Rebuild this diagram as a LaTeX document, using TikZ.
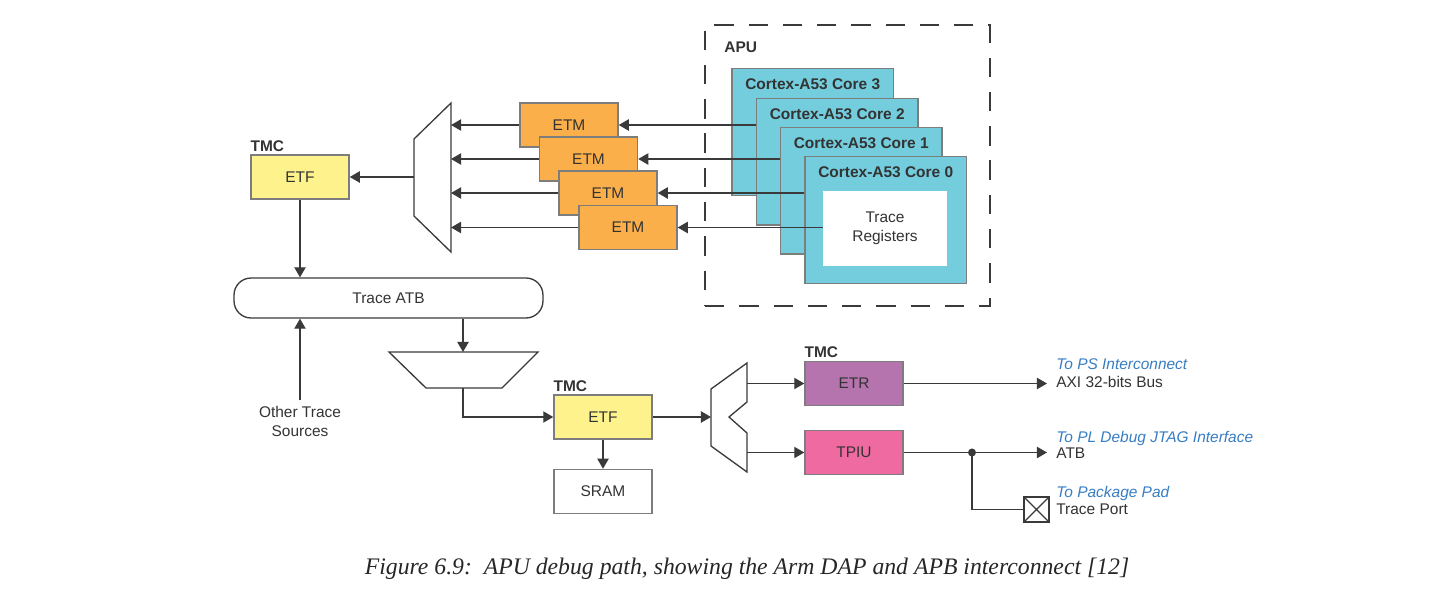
\documentclass[tikz,border=0pt]{standalone}
\usepackage{fontspec}
\setmainfont{Liberation Serif}
\setsansfont{Liberation Sans}
\usetikzlibrary{arrows.meta, positioning}

\definecolor{corecyan}{RGB}{115,205,221}
\definecolor{etmorange}{RGB}{250,175,74}
\definecolor{etfyellow}{RGB}{254,242,140}
\definecolor{etrpurple}{RGB}{181,116,174}
\definecolor{tpiupink}{RGB}{240,106,162}
\definecolor{boxgray}{RGB}{125,125,125}
\definecolor{linegray}{RGB}{58,58,58}
\definecolor{txtgray}{RGB}{51,51,51}
\definecolor{destblue}{RGB}{55,125,195}

\begin{document}
\begin{tikzpicture}[
    x=0.02cm, y=-0.02cm,
    every node/.style={font=\sffamily\fontsize{8.8}{10.8}\selectfont, text=txtgray},
    block/.style={
        rectangle,
        draw=boxgray,
        line width=0.85pt,
        minimum width=1.96cm,
        minimum height=0.88cm,
        inner sep=0pt
    },
    etm/.style={block, fill=etmorange},
    etf/.style={block, fill=etfyellow},
    core/.style={
        rectangle,
        draw=boxgray,
        line width=0.85pt,
        fill=corecyan,
        minimum width=3.24cm,
        minimum height=2.54cm,
        anchor=north west
    },
    corename/.style={font=\sffamily\bfseries\fontsize{8.8}{10.8}\selectfont, inner sep=0pt, anchor=north, yshift=-0.21cm},
    tmc/.style={font=\sffamily\bfseries\fontsize{8.8}{10.8}\selectfont, inner sep=0pt, anchor=south west, yshift=0.05cm},
    apubox/.style={draw=linegray, line width=0.75pt, dash pattern=on 11pt off 8.5pt, minimum width=5.7cm, minimum height=5.62cm},
    mux/.style={draw=linegray, line width=0.75pt, fill=white},
    wire/.style={draw=linegray, line width=0.75pt},
    arrow/.style={wire, -{Triangle[length=5.7pt, width=6.4pt]}},
    dest/.style={font=\sffamily\itshape\fontsize{8.8}{10.8}\selectfont, text=destblue, inner sep=0pt, anchor=base west},
    note/.style={inner sep=0pt, anchor=base west}
]
    \useasboundingbox (0,0) rectangle (1440,592);

    % APU with its four cores
    \node (apu) [apubox] at (847.5,165.5) {};
    \node (apuname) [font=\sffamily\bfseries\fontsize{8.8}{10.8}\selectfont, inner sep=0pt, anchor=base west] at (724,52.5) {APU};

    \node (core3) [core, label={[corename]north:Cortex-A53 Core 3}] at (731,68) {};
    \node (core2) [core, label={[corename]north:Cortex-A53 Core 2}] at (755.5,97.5) {};
    \node (core1) [core, label={[corename]north:Cortex-A53 Core 1}] at (779.5,126.5) {};
    \node (core0) [core, label={[corename]north:Cortex-A53 Core 0}] at (804,156) {};
    \node (treg) [fill=white, minimum width=2.48cm, minimum height=1.5cm, inner sep=0pt, align=center] at (885,228.5) {Trace\\Registers};

    % ETMs, stacked
    \node (etm1) [etm] at (569,125) {ETM};
    \node (etm2) [etm] at (588.5,159) {ETM};
    \node (etm3) [etm] at (608,193) {ETM};
    \node (etm4) [etm] at (628,227.5) {ETM};

    % first funnel and the ETF behind it
    \draw [mux] (414,139) -- (451,103) -- (451,252) -- (414,216) -- cycle;
    \coordinate (muxa in) at (451,177);
    \coordinate (muxa out) at (414,177);

    \node (etfa) [etf, label={[tmc]north west:TMC}] at (300,177) {ETF};

    \node (atb) [draw=linegray, line width=0.75pt, fill=white, rounded corners=0.34cm, minimum width=6.18cm, minimum height=0.8cm, inner sep=0pt] at (388.5,298) {Trace ATB};
    \node (others) [align=center] at (300,421.5) {Other Trace\\Sources};

    % second funnel
    \draw [mux] (389,352) -- (538,352) -- (502,388) -- (426,388) -- cycle;
    \coordinate (muxb in) at (463,352);
    \coordinate (muxb out) at (463,388);

    \node (etfb) [etf, label={[tmc]north west:TMC}] at (603,417) {ETF};
    \node (sram) [block, fill=white, below=0.58cm of etfb] {SRAM};

    % replicator with a notch
    \draw [mux] (711,389) -- (747,363) -- (747,402) -- (729,417) -- (747,433) -- (747,472) -- (711,446) -- cycle;
    \coordinate (muxc in) at (711,417);
    \coordinate (muxc out) at (747,417);

    \node (etr) [block, fill=etrpurple, label={[tmc]north west:TMC}] at (854,383.5) {ETR};
    \node (tpiu) [block, fill=tpiupink, below=0.47cm of etr] {TPIU};

    % outputs on the right
    \coordinate (busend) at (1047,417);
    \coordinate (split) at (972,417);
    \node (pad) [draw=linegray, line width=0.85pt, fill=white, minimum size=0.5cm, inner sep=0pt] at (1036.5,509.5) {};

    \node (psto) [dest] at (1056,369) {To PS Interconnect};
    \node (psbus) [note] at (1056,387) {AXI 32-bits Bus};
    \node (plto) [dest] at (1056,442) {To PL Debug JTAG Interface};
    \node (plbus) [note] at (1056,458) {ATB};
    \node (padto) [dest] at (1056,497) {To Package Pad};
    \node (padport) [note] at (1056,514) {Trace Port};

    % Draw connections
    \draw [arrow] (core2.west |- etm1.east) -- (etm1.east);
    \draw [arrow] (core1.west |- etm2.east) -- (etm2.east);
    \draw [arrow] (core0.west |- etm3.east) -- (etm3.east);
    \draw [arrow] (treg.west |- etm4.east) -- (etm4.east);

    \draw [arrow] (etm1.west) -- (etm1.west -| muxa in);
    \draw [arrow] (etm2.west) -- (etm2.west -| muxa in);
    \draw [arrow] (etm3.west) -- (etm3.west -| muxa in);
    \draw [arrow] (etm4.west) -- (etm4.west -| muxa in);
    \draw [arrow] (muxa out) -- (etfa.east);

    \draw [arrow] (etfa.south) -- (etfa.south |- atb.north);
    \draw [arrow] (others.north) -- (others.north |- atb.south);
    \draw [arrow] (atb.south -| muxb in) -- (muxb in);
    \draw [arrow] (muxb out) |- (etfb.west);

    \draw [arrow] (etfb.south) -- (sram.north);
    \draw [arrow] (etfb.east) -- (muxc in);
    \draw [arrow] (etr.west -| muxc out) -- (etr.west);
    \draw [arrow] (tpiu.west -| muxc out) -- (tpiu.west);

    \draw [arrow] (etr.east) -- (etr.east -| busend);
    \draw [arrow] (tpiu.east) -- (tpiu.east -| busend);
    \fill [linegray] (tpiu.east -| split) circle (0.08cm);
    \draw [wire] (tpiu.east -| split) |- (pad.west);
    \draw [wire] (pad.north west) -- (pad.south east) (pad.north east) -- (pad.south west);

    % caption
    \node (caption) [font=\rmfamily\itshape\fontsize{13.5}{16}\selectfont, text=black!85, anchor=base] at (747,574) {Figure 6.9:\ \ APU debug path, showing the Arm DAP and APB interconnect [12]};

\end{tikzpicture}
\end{document}
